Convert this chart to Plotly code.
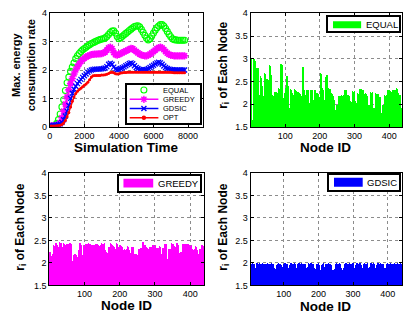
import plotly.graph_objects as go

# ---------------- data ----------------
sim_time = [t * 100 for t in range(79)]  # 0 .. 7800

equal_rate = [0.00, 0.00, 0.02, 0.05, 0.12, 0.25, 0.45, 0.70, 0.95, 1.28,
              1.55, 1.75, 1.95, 2.10, 2.25, 2.40, 2.50, 2.58, 2.65, 2.71,
              2.76, 2.80, 2.85, 2.89, 2.93, 2.96, 2.99, 3.02, 3.05, 3.07,
              3.09, 3.10, 3.13, 3.18, 3.25, 3.32, 3.37, 3.38, 3.30, 3.18,
              3.10, 3.14, 3.19, 3.24, 3.29, 3.34, 3.39, 3.44, 3.49, 3.53,
              3.55, 3.56, 3.52, 3.43, 3.33, 3.22, 3.12, 3.06, 3.10, 3.20,
              3.30, 3.40, 3.49, 3.55, 3.60, 3.60, 3.55, 3.46, 3.36, 3.26,
              3.17, 3.10, 3.07, 3.06, 3.05, 3.05, 3.05, 3.05, 3.05]

greedy_rate = [0.03, 0.03, 0.03, 0.04, 0.05, 0.08, 0.15, 0.32, 0.55, 0.80,
               1.05, 1.30, 1.52, 1.70, 1.86, 2.00, 2.12, 2.22, 2.30, 2.37,
               2.42, 2.46, 2.49, 2.52, 2.54, 2.55, 2.56, 2.56, 2.57, 2.57,
               2.58, 2.60, 2.63, 2.70, 2.78, 2.81, 2.75, 2.62, 2.54, 2.52,
               2.55, 2.58, 2.61, 2.64, 2.67, 2.70, 2.73, 2.76, 2.75, 2.70,
               2.65, 2.60, 2.56, 2.53, 2.51, 2.50, 2.50, 2.52, 2.56, 2.60,
               2.65, 2.70, 2.75, 2.79, 2.81, 2.78, 2.72, 2.65, 2.59, 2.55,
               2.52, 2.51, 2.50, 2.50, 2.50, 2.50, 2.50, 2.50, 2.50]

gdsic_rate = [0.05, 0.05, 0.05, 0.05, 0.06, 0.08, 0.10, 0.15, 0.25, 0.38,
              0.55, 0.75, 1.00, 1.18, 1.32, 1.43, 1.52, 1.60, 1.67, 1.74,
              1.80, 1.86, 1.92, 1.97, 2.00, 2.02, 2.03, 2.03, 2.03, 2.03,
              2.04, 2.05, 2.07, 2.12, 2.20, 2.24, 2.20, 2.10, 2.03, 2.01,
              2.02, 2.05, 2.08, 2.11, 2.15, 2.19, 2.23, 2.25, 2.22, 2.15,
              2.09, 2.05, 2.02, 2.01, 2.00, 2.01, 2.02, 2.05, 2.09, 2.13,
              2.17, 2.21, 2.25, 2.27, 2.25, 2.20, 2.14, 2.09, 2.05, 2.03,
              2.02, 2.01, 2.00, 2.00, 2.00, 2.00, 2.00, 2.00, 2.00]

opt_rate = [0.03, 0.03, 0.03, 0.03, 0.04, 0.04, 0.05, 0.08, 0.13, 0.22,
            0.35, 0.50, 0.70, 0.90, 1.05, 1.17, 1.25, 1.31, 1.36, 1.41,
            1.46, 1.51, 1.57, 1.66, 1.75, 1.80, 1.81, 1.81, 1.81, 1.81,
            1.82, 1.82, 1.83, 1.85, 1.88, 1.91, 1.92, 1.90, 1.87, 1.86,
            1.87, 1.89, 1.90, 1.91, 1.91, 1.92, 1.92, 1.92, 1.92, 1.92,
            1.92, 1.92, 1.92, 1.92, 1.92, 1.92, 1.92, 1.92, 1.92, 1.92,
            1.92, 1.92, 1.92, 1.92, 1.92, 1.92, 1.92, 1.92, 1.92, 1.92,
            1.92, 1.91, 1.90, 1.90, 1.90, 1.90, 1.90, 1.90, 1.90]

series_names = ["EQUAL", "GREEDY", "GDSIC", "OPT"]

equal_r = [
    3.00, 2.98,
    1.60, 1.62, 1.58, 1.65, 1.60,
    3.00, 2.96, 2.20, 2.99, 2.10, 2.95,
    2.79, 2.30, 2.78, 2.10, 2.75, 2.20, 2.79,
    2.13, 2.00, 2.20, 2.10, 1.95, 2.18, 2.05,
    2.61, 2.30, 2.10, 2.58, 2.20, 2.00, 2.40,
    2.17, 2.05, 2.12,
    2.68, 2.20, 2.66, 2.10, 2.30,
    2.31, 2.10, 2.25,
    2.54, 2.20, 2.10, 2.52, 2.00,
    2.20, 2.05, 2.15,
    2.86, 2.30, 2.84, 2.10,
    2.63, 2.20, 2.60, 2.05,
    2.20, 2.10, 2.18, 1.95, 2.12,
    2.27, 2.10, 2.25, 2.00, 2.20, 2.27, 2.05, 2.15, 2.24,
    1.96, 1.90, 1.95, 1.88,
    2.35, 2.20, 2.33,
    2.31, 2.05, 2.28, 2.10,
    2.87, 2.30, 2.85, 2.10, 2.40,
    2.13, 2.00, 2.10, 1.98,
    2.24, 2.10, 2.22, 2.05,
    2.35, 2.20, 2.33, 2.10,
    2.61, 2.20, 2.58, 2.00, 2.40, 2.15,
    1.92, 1.88, 1.90, 1.85,
    2.33, 2.10, 2.30, 2.00, 2.25,
    2.20, 2.05, 2.18, 2.10, 1.95, 2.20, 2.12,
    2.33, 2.15, 2.30, 2.00, 2.28,
    2.27, 2.10, 2.25, 2.05, 2.20, 2.27, 2.00,
    2.24, 2.10, 2.20, 2.00, 2.22, 2.15, 2.05,
    2.17, 2.00, 2.15, 2.10, 1.95,
    2.82, 2.40, 2.80, 2.20, 2.10, 2.30, 2.05,
    2.20, 2.10, 2.18, 2.00, 2.15,
    2.31, 2.15, 2.30, 2.05, 2.28,
    2.03, 1.95, 2.00, 1.92, 2.02, 1.90,
    2.31, 2.10, 2.28, 2.20, 2.05, 2.30,
    2.10, 2.00, 2.08, 1.95,
    2.31, 2.20, 2.28, 2.05, 2.30, 2.15, 2.25, 2.10,
    2.24, 2.10, 2.22, 2.00,
    2.17, 2.05, 2.15, 2.10, 1.98,
    2.68, 2.30, 2.66, 2.15, 2.40,
    2.35, 2.20, 2.33, 2.10, 2.30,
    2.10, 1.95, 2.08, 2.00,
    2.59, 2.20, 2.55, 2.10, 2.30,
    2.63, 2.25, 2.60, 2.15, 2.35,
    2.33, 2.15, 2.30, 2.05, 2.32, 2.20, 2.10,
    2.24, 2.10, 2.20, 2.00, 2.22,
    2.20, 2.05, 2.18, 2.10, 1.97,
    1.89, 1.85, 1.88, 1.80, 1.87, 1.83, 1.89,
    1.99, 1.90, 1.97, 1.93, 1.98, 1.92,
    2.18, 2.05, 2.15, 2.10, 2.17, 2.00, 2.12, 2.08,
    2.20, 2.10, 2.18, 2.05, 2.20, 2.12, 2.00, 2.15, 2.19,
    2.31, 2.15, 2.28, 2.10, 2.30, 2.05,
    2.20, 2.10, 2.18, 2.00, 2.15, 2.20, 2.05, 2.12, 2.17,
    2.06, 1.95, 2.04, 2.00, 1.92, 2.05,
    2.29, 2.15, 2.27, 2.10, 2.25, 2.05, 2.20, 2.28,
    2.06, 1.98, 2.05, 1.95, 2.03, 2.00, 1.90, 2.04,
    2.24, 2.10, 2.22, 2.05, 2.20, 2.15,
    2.33, 2.20, 2.30, 2.10, 2.32, 2.15, 2.28, 2.05, 2.25, 2.30,
    2.24, 2.10, 2.20, 2.05, 2.22, 2.15,
    2.24, 2.15, 2.20, 2.05, 2.23, 2.10, 2.18, 2.00,
    1.99, 1.92, 1.97, 1.90, 1.98, 1.95, 1.88,
    2.27, 2.15, 2.25, 2.05, 2.20, 2.26, 2.10,
    1.92, 1.85, 1.90, 1.88, 1.80, 1.91, 1.86,
    2.24, 2.10, 2.20, 2.05, 2.22, 2.15, 2.00, 2.23,
    2.17, 2.05, 2.15, 2.00, 2.10, 2.16, 1.95,
    1.71, 1.75, 1.70, 1.80, 1.72, 1.85, 1.78,
    1.97, 1.90, 1.95, 1.88, 1.96,
    2.20, 2.10, 2.18, 2.05, 2.20, 2.12, 2.00, 2.15, 2.19,
    2.31, 2.20, 2.28, 2.10, 2.30, 2.15, 2.25, 2.05,
    2.29, 2.15, 2.27, 2.10, 2.25, 2.20,
    2.31, 2.20, 2.28, 2.10, 2.30, 2.15, 2.25, 2.05, 2.20, 2.30,
    2.35, 2.20, 2.33, 2.10, 2.30, 2.25, 2.15,
    2.20, 2.10, 2.18, 2.05, 2.20, 2.12, 2.00,
    1.92, 1.85, 1.90, 1.88, 1.80, 1.91, 1.86, 1.90,
]

greedy_r = [
    2.25, 2.20, 2.24, 2.15, 2.22,
    2.11, 2.15, 2.12, 2.18,
    2.21, 2.10, 2.20,
    2.39, 2.25, 2.37, 2.30, 2.20, 2.38, 2.30,
    2.44, 2.30, 2.42, 2.25, 2.40,
    2.37, 2.20, 2.35, 2.30, 2.25,
    2.46, 2.30, 2.44, 2.35, 2.20, 2.45, 2.30,
    2.36, 2.20, 2.34, 2.25,
    2.44, 2.30, 2.42, 2.20, 2.40,
    2.32, 2.20, 2.30, 2.15, 2.28,
    2.43, 2.30, 2.40, 2.25, 2.42,
    2.21, 2.10, 2.20, 2.15,
    2.44, 2.30, 2.42, 2.20, 2.35,
    1.89, 2.00, 1.92, 2.05, 1.95,
    2.18, 2.05, 2.15, 2.10,
    2.21, 2.10, 2.20, 2.00, 2.18,
    2.13, 2.00, 2.10, 2.05, 1.95,
    2.29, 2.15, 2.27, 2.20,
    2.44, 2.30, 2.42, 2.25, 2.40,
    2.20, 2.10, 2.18, 2.05, 1.96,
    2.39, 2.25, 2.37, 2.30, 2.20, 2.38, 2.30,
    2.43, 2.30, 2.40, 2.25, 2.42, 2.35, 2.20,
    2.44, 2.35, 2.42, 2.30, 2.40, 2.43, 2.25, 2.38, 2.30,
    2.41, 2.30, 2.39, 2.25, 2.40, 2.35, 2.20, 2.38, 2.41, 2.30,
    2.43, 2.30, 2.40, 2.35, 2.42, 2.25, 2.38, 2.43, 2.30,
    2.39, 2.30, 2.37, 2.25, 2.38, 2.20, 2.35, 2.39, 2.30,
    2.44, 2.35, 2.42, 2.30, 2.40, 2.43, 2.25, 2.38, 2.44, 2.30,
    2.29, 2.20, 2.27, 2.15,
    2.25, 2.10, 2.23, 2.15, 2.20,
    2.36, 2.25, 2.34, 2.20, 2.35, 2.30, 2.15,
    2.44, 2.30, 2.42, 2.35, 2.25, 2.40,
    2.39, 2.30, 2.37, 2.20, 2.35, 2.30,
    2.32, 2.20, 2.30, 2.15, 2.28,
    2.44, 2.30, 2.42, 2.35,
    2.36, 2.25, 2.34, 2.20, 2.35, 2.30, 2.15,
    2.39, 2.30, 2.07, 2.37, 2.25, 2.35,
    2.30, 2.20, 2.28, 2.15, 2.25, 2.29,
    2.32, 2.20, 2.30, 2.15, 2.28, 2.32, 2.10,
    2.37, 2.25, 2.35, 2.20, 2.36, 2.30, 2.15,
    2.25, 2.15, 2.23, 2.10, 2.20,
    2.36, 2.25, 2.34, 2.20, 2.35, 2.30, 2.15,
    2.20, 2.10, 2.18, 2.05, 2.15,
    2.21, 2.07, 2.20, 2.10, 2.18, 2.15, 2.05,
    2.32, 2.20, 2.30, 2.15, 2.28, 2.32, 2.20,
    2.34, 2.11, 2.30, 2.20, 2.33, 2.25, 2.15,
    2.46, 2.30, 2.44, 2.35, 2.25, 2.40,
    2.36, 2.25, 2.34, 2.20, 2.35, 2.30, 2.15, 2.33,
    2.32, 2.20, 2.30, 2.15, 2.28, 2.25,
    2.36, 2.25, 2.34, 2.20, 2.35, 2.30, 2.15, 2.33,
    2.39, 2.30, 2.37, 2.25, 2.38, 2.20, 2.35, 2.39, 2.30,
    2.34, 2.25, 2.32, 2.20, 2.33, 2.30, 2.15, 2.34, 2.25, 2.30,
    2.37, 2.25, 2.35, 2.30,
    2.21, 2.10, 2.20, 2.15, 2.18,
    2.34, 2.20, 2.32, 2.25, 2.30,
    2.43, 2.30, 2.40, 2.25, 2.42, 2.35,
    2.11, 2.05, 2.10, 2.00, 2.08, 2.10,
    2.32, 2.20, 2.30, 2.15, 2.28, 2.32, 2.20,
    2.44, 2.30, 2.42, 2.35, 2.25, 2.40, 2.43, 2.30, 2.38,
    2.36, 2.25, 2.34, 2.20, 2.35, 2.30, 2.15,
    2.44, 2.14, 2.42, 2.30, 2.40,
    2.25, 2.15, 2.23, 2.10, 2.20, 2.25, 2.05, 2.20, 2.24, 2.15, 2.10,
    2.43, 2.30, 2.40, 2.25, 2.42, 2.35, 2.20, 2.38,
    2.43, 2.35, 2.40, 2.30, 2.42, 2.25, 2.38, 2.43, 2.30, 2.40, 2.20,
    2.39, 2.30, 2.37, 2.25, 2.38, 2.20, 2.35, 2.39, 2.30, 2.25,
    2.32, 2.20, 2.30, 2.14, 2.28, 2.32, 2.20,
    2.37, 2.25, 2.35, 2.20, 2.36, 2.30, 2.15,
    2.21, 2.10, 2.20, 2.05, 2.18, 2.15,
    2.32, 2.20, 2.30, 2.15, 2.28, 2.25,
    2.39, 2.30, 2.37, 2.25, 2.38, 2.30, 2.20,
]

gdsic_r = [
    1.98, 1.95, 2.00, 1.97, 1.93, 1.99, 1.96, 1.94, 2.00, 1.97,
    1.95, 1.99, 1.96, 1.92, 1.98, 1.88, 1.90, 1.86, 1.95, 1.99,
    2.00, 1.96, 1.98, 1.93, 1.97, 1.99, 1.94, 1.96, 2.00, 1.95,
    1.97, 1.93, 1.99, 1.95, 1.98, 1.92, 1.96, 2.00, 1.94, 1.97,
    1.95, 1.99, 1.93, 1.97, 1.88, 1.85, 1.87, 1.90, 1.96, 1.98,
    2.00, 1.94, 1.97, 1.95, 1.99, 1.92, 1.98, 1.96, 1.93, 1.99,
    1.97, 1.95, 2.00, 1.94, 1.96, 1.98, 1.93, 1.97, 1.95, 1.90,
    1.87, 1.82, 1.84, 1.83, 1.86, 1.82, 1.85, 1.90, 1.96, 1.99,
    1.97, 1.94, 2.00, 1.96, 1.93, 1.98, 1.95, 1.99, 1.92, 1.97,
    1.95, 1.90, 1.88, 1.86, 1.88, 1.92, 1.97, 1.99, 1.95, 1.98,
    1.96, 2.00, 1.94, 1.97, 1.93, 1.99, 1.95, 1.98, 1.92, 1.96,
    1.90, 1.87, 1.85, 1.86, 1.90, 1.95, 1.99, 1.97, 2.00, 1.94,
    1.98, 1.95, 1.97, 1.93, 1.99, 1.96, 1.98, 1.94, 2.00, 1.95,
    1.97, 1.93, 1.96, 1.90, 1.87, 1.88, 1.86, 1.90, 1.96, 1.99,
    1.97, 2.00, 1.95, 1.98, 1.93, 1.97, 1.99, 1.94, 1.96, 2.00,
    1.95, 1.98, 1.92, 1.97, 1.99, 1.95, 1.98, 1.96, 1.93, 1.99,
    1.97, 1.94, 1.90, 1.86, 1.85, 1.87, 1.86, 1.92, 1.97, 2.00,
    1.95, 1.98, 1.96, 1.99, 1.93, 1.97, 2.00, 1.94, 1.98, 1.96,
    1.99, 1.95, 1.97, 1.93, 1.98, 1.90, 1.87, 1.84, 1.85, 1.83,
    1.84, 1.87, 1.92, 1.97, 1.99, 1.95, 1.98, 1.94, 2.00, 1.96,
    1.93, 1.88, 1.84, 1.82, 1.83, 1.82, 1.86, 1.90, 1.96, 1.99,
    1.97, 1.95, 2.00, 1.94, 1.91, 1.87, 1.86, 1.87, 1.92, 1.98,
    1.96, 1.99, 1.95, 1.97, 1.93, 1.98, 2.00, 1.94, 1.97, 1.95,
    1.99, 1.96, 1.93, 1.98, 1.95, 1.90, 1.86, 1.84, 1.82, 1.83,
    1.82, 1.84, 1.83, 1.86, 1.82, 1.85, 1.90, 1.95, 1.99, 1.97,
    2.00, 1.94, 1.98, 1.96, 1.93, 1.99, 1.95, 1.97, 2.00, 1.94,
    1.97, 1.95, 1.92, 1.88, 1.85, 1.84, 1.83, 1.85, 1.84, 1.86,
    1.84, 1.88, 1.93, 1.98, 1.96, 1.99, 1.95, 2.00, 1.94, 1.97,
    1.95, 1.98, 1.93, 1.99, 1.96, 1.97, 1.94, 2.00, 1.95, 1.98,
    1.96, 1.93, 1.99, 1.97, 1.95, 1.98, 1.94, 2.00, 1.96, 1.93,
    1.90, 1.86, 1.85, 1.87, 1.86, 1.90, 1.95, 1.99, 1.97, 2.00,
    1.94, 1.98, 1.96, 1.99, 1.93, 1.97, 1.95, 2.00, 1.94, 1.98,
    1.96, 1.92, 1.88, 1.87, 1.86, 1.88, 1.87, 1.90, 1.95, 1.99,
    1.97, 2.00, 1.95, 1.98, 1.93, 1.99, 1.96, 1.97, 1.94, 2.00,
    1.95, 1.90, 1.87, 1.86, 1.85, 1.87, 1.91, 1.96, 1.98, 2.00,
    1.94, 1.97, 1.99, 1.95, 1.98, 1.93, 1.96, 2.00, 1.97, 1.94,
    1.91, 1.88, 1.87, 1.86, 1.88, 1.90, 1.95, 1.99, 1.97, 2.00,
    1.95, 1.98, 1.96, 1.99, 1.93, 1.97, 2.00, 1.94, 1.98, 1.96,
    1.99, 1.95, 1.97, 1.93, 1.98, 1.96, 1.92, 1.88, 1.87, 1.86,
    1.88, 1.87, 1.90, 1.95, 1.99, 1.97, 2.00, 1.94, 1.98, 1.96,
    1.99, 1.95, 1.97, 1.93, 1.98, 2.00, 1.94, 1.97, 1.95, 1.90,
    1.88, 1.89, 1.92, 1.97, 1.99, 1.95, 1.98, 2.00, 1.94, 1.97,
    1.96, 1.99, 1.95, 1.98, 1.93, 1.97, 2.00, 1.94, 1.96, 1.99,
    1.95, 1.98, 1.93, 1.97, 2.00, 1.94, 1.98, 1.96, 1.99, 1.95,
]

node_equal = list(range(1, len(equal_r) + 1))
node_greedy = list(range(1, len(greedy_r) + 1))
node_gdsic = list(range(1, len(gdsic_r) + 1))

time_ticks = [0, 2000, 4000, 6000, 8000]
rate_ticks = [0, 1, 2, 3, 4]
node_ticks = [100, 200, 300, 400]
r_ticks = [1.5, 2, 2.5, 3, 3.5, 4]

# ---------------- style ----------------
W, H = 403, 320
FONT = "Liberation Sans, Arial, Helvetica, sans-serif"
GREEN, MAGENTA, BLUE, RED = "#00ff00", "#ff00ff", "#0000ff", "#ff0000"
GRID = "#8c8c8c"


def dx(a, b):
    return [a / W, min(b / W, 1.0)]


def dy(top, bottom):
    return [1 - bottom / H, 1 - top / H]


def main_axis(domain, rng, ticks, anchor):
    return dict(domain=domain, range=rng, tickvals=ticks, ticks="inside",
                ticklen=3, tickwidth=1, tickcolor="black", showline=True,
                linecolor="black", linewidth=1, mirror="ticks", showgrid=True,
                gridcolor=GRID, griddash="dot", gridwidth=1, zeroline=False,
                tickfont=dict(family=FONT, size=9, color="black"),
                anchor=anchor, fixedrange=True)


def box_axis(domain, anchor):
    return dict(domain=domain, range=[0, 1], showline=True, linecolor="black",
                linewidth=1.6, mirror=True, showgrid=False, zeroline=False,
                showticklabels=False, ticks="", anchor=anchor, fixedrange=True)


fig = go.Figure()

# panel 1: lines
fig.add_trace(go.Scatter(x=sim_time, y=equal_rate, mode="markers", name=series_names[0],
                         marker=dict(symbol="circle-open", size=6, color=GREEN, line=dict(width=1.1)),
                         xaxis="x", yaxis="y", showlegend=False))
fig.add_trace(go.Scatter(x=sim_time, y=greedy_rate, mode="lines+markers", name=series_names[1],
                         line=dict(color=MAGENTA, width=1.5),
                         marker=dict(symbol="asterisk-open", size=6, color=MAGENTA, line=dict(width=1.6, color=MAGENTA)),
                         xaxis="x", yaxis="y", showlegend=False))
fig.add_trace(go.Scatter(x=sim_time, y=gdsic_rate, mode="lines+markers", name=series_names[2],
                         line=dict(color=BLUE, width=1.5),
                         marker=dict(symbol="x-thin-open", size=5, color=BLUE, line=dict(width=1.3, color=BLUE)),
                         xaxis="x", yaxis="y", showlegend=False))
fig.add_trace(go.Scatter(x=sim_time, y=opt_rate, mode="lines+markers", name=series_names[3],
                         line=dict(color=RED, width=1.5),
                         marker=dict(symbol="circle", size=3, color=RED),
                         xaxis="x", yaxis="y", showlegend=False))

# bar panels
fig.add_trace(go.Bar(x=node_equal, y=equal_r, marker=dict(color=GREEN, line=dict(width=0)),
                     xaxis="x2", yaxis="y2", showlegend=False, name=series_names[0]))
fig.add_trace(go.Bar(x=node_greedy, y=greedy_r, marker=dict(color=MAGENTA, line=dict(width=0)),
                     xaxis="x3", yaxis="y3", showlegend=False, name=series_names[1]))
fig.add_trace(go.Bar(x=node_gdsic, y=gdsic_r, marker=dict(color=BLUE, line=dict(width=0)),
                     xaxis="x4", yaxis="y4", showlegend=False, name=series_names[2]))

# legend of panel 1 (drawn in its own small box axis)
leg_y = [0.87, 0.625, 0.38, 0.135]
fig.add_trace(go.Scatter(x=[0.233], y=[leg_y[0]], mode="markers",
                         marker=dict(symbol="circle-open", size=6, color=GREEN, line=dict(width=1.1)),
                         xaxis="x5", yaxis="y5", showlegend=False, hoverinfo="skip"))
for yy, col, sym, sz in [(leg_y[1], MAGENTA, "asterisk-open", 6), (leg_y[2], BLUE, "x-thin-open", 5),
                         (leg_y[3], RED, "circle", 3)]:
    fig.add_trace(go.Scatter(x=[0.04, 0.43], y=[yy, yy], mode="lines", line=dict(color=col, width=1.5),
                             xaxis="x5", yaxis="y5", showlegend=False, hoverinfo="skip"))
    fig.add_trace(go.Scatter(x=[0.233], y=[yy], mode="markers",
                             marker=dict(symbol=sym, size=sz, color=col, line=dict(width=1.4, color=col)),
                             xaxis="x5", yaxis="y5", showlegend=False, hoverinfo="skip"))

annotations = []
for yy, name in zip(leg_y, series_names):
    annotations.append(dict(x=0.47, y=yy, xref="x5", yref="y5", text=name, showarrow=False,
                            xanchor="left", yanchor="middle",
                            font=dict(family=FONT, size=7.5, color="black")))

shapes = []
# bar legends
for ax_id, name, col, sx, tx in [("6", series_names[0], GREEN, (0.07, 0.466, 0.19, 0.714), 0.50),
                                  ("7", series_names[1], MAGENTA, (0.06, 0.424, 0.227, 0.827), 0.452),
                                  ("8", series_names[2], BLUE, (0.071, 0.481, 0.19, 0.79), 0.516)]:
    shapes.append(dict(type="rect", xref="x" + ax_id, yref="y" + ax_id, x0=sx[0], x1=sx[1],
                       y0=sx[2], y1=sx[3], fillcolor=col, line=dict(width=0), layer="above"))
    annotations.append(dict(x=tx, y=0.5, xref="x" + ax_id, yref="y" + ax_id, text=name, showarrow=False,
                            xanchor="left", yanchor="middle",
                            font=dict(family=FONT, size=9.5, color="black")))

# axis titles
TFONT = dict(family=FONT, size=13.5, color="black")
annotations += [
    dict(x=124.5 / W, y=1 - 147.5 / H, xref="paper", yref="paper", text="<b>Simulation Time</b>",
         showarrow=False, xanchor="center", yanchor="middle", font=TFONT),
    dict(x=326 / W, y=1 - 147.5 / H, xref="paper", yref="paper", text="<b>Node ID</b>",
         showarrow=False, xanchor="center", yanchor="middle", font=TFONT),
    dict(x=124.5 / W, y=1 - 310 / H, xref="paper", yref="paper", text="<b>Node ID</b>",
         showarrow=False, xanchor="center", yanchor="middle", font=TFONT),
    dict(x=326 / W, y=1 - 310.8 / H, xref="paper", yref="paper", text="<b>Node ID</b>",
         showarrow=False, xanchor="center", yanchor="middle", font=TFONT),
    dict(x=20.5 / W, y=1 - 62 / H, xref="paper", yref="paper",
         text="<b>Max. energy<br>consumption rate</b>", textangle=-90,
         showarrow=False, xanchor="center", yanchor="middle",
         font=dict(family=FONT, size=11, color="black")),
    dict(x=223 / W, y=1 - 62 / H, xref="paper", yref="paper",
         text="<b>r<sub>i</sub> of Each Node</b>", textangle=-90,
         showarrow=False, xanchor="center", yanchor="middle",
         font=dict(family=FONT, size=12, color="black")),
    dict(x=18 / W, y=1 - 229 / H, xref="paper", yref="paper",
         text="<b>r<sub>i</sub> of Each Node</b>", textangle=-90,
         showarrow=False, xanchor="center", yanchor="middle",
         font=dict(family=FONT, size=12, color="black")),
    dict(x=223 / W, y=1 - 229 / H, xref="paper", yref="paper",
         text="<b>r<sub>i</sub> of Each Node</b>", textangle=-90,
         showarrow=False, xanchor="center", yanchor="middle",
         font=dict(family=FONT, size=12, color="black")),
]

fig.update_layout(
    width=W, height=H, autosize=False,
    margin=dict(l=0, r=0, t=0, b=0, pad=0),
    paper_bgcolor="white", plot_bgcolor="white",
    font=dict(family=FONT, size=9, color="black"),
    bargap=0, barmode="overlay", showlegend=False,
    xaxis=main_axis(dx(47.3, 201.7), [0, 8850], time_ticks, "y"),
    yaxis=main_axis(dy(8.5, 125.7), [0, 4], rate_ticks, "x"),
    xaxis2=main_axis(dx(250, 403), [0, 437], node_ticks, "y2"),
    yaxis2=main_axis(dy(8.5, 126), [1.5, 4], r_ticks, "x2"),
    xaxis3=main_axis(dx(46.7, 203), [0, 439], node_ticks, "y3"),
    yaxis3=main_axis(dy(173.3, 289.5), [1.5, 4], r_ticks, "x3"),
    xaxis4=main_axis(dx(250, 403), [4, 441], node_ticks, "y4"),
    yaxis4=main_axis(dy(173.3, 289.5), [1.5, 4], r_ticks, "x4"),
    xaxis5=box_axis(dx(125, 199.3), "y5"), yaxis5=box_axis(dy(82.7, 121.7), "x5"),
    xaxis6=box_axis(dx(328.3, 400), "y6"), yaxis6=box_axis(dy(12.7, 26.7), "x6"),
    xaxis7=box_axis(dx(116.7, 199.3), "y7"), yaxis7=box_axis(dy(176.7, 191.7), "x7"),
    xaxis8=box_axis(dx(329.3, 400), "y8"), yaxis8=box_axis(dy(175, 190.7), "x8"),
    annotations=annotations, shapes=shapes,
)

fig.write_html("out.html",
               config={"displayModeBar": False, "staticPlot": False},
               post_script="document.body.style.margin='0';document.body.style.padding='0';"
                           "document.documentElement.style.overflow='hidden';")
